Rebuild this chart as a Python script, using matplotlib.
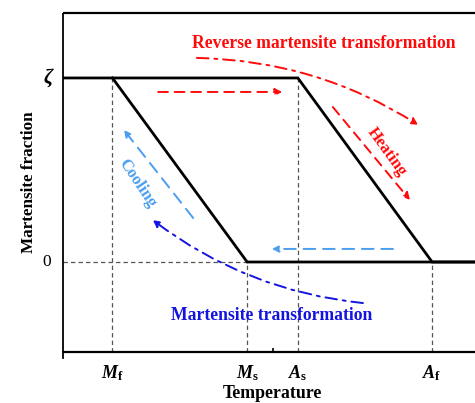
import matplotlib
matplotlib.use("Agg")
import matplotlib.pyplot as plt
from matplotlib.patches import FancyArrowPatch

# Characteristic transformation temperatures (arbitrary units)
temp_labels = ["M_f", "M_s", "A_s", "A_f"]
temp_values = [1.2, 4.47, 5.70, 8.96]
# Martensite fraction levels
frac_labels = ["ζ", "0"]
frac_values = [1.0, 0.0]

T_MIN, T_MAX = 0.0, 10.0
Y_MIN, Y_MAX = -0.489, 1.353

Mf, Ms, As, Af = temp_values
zeta, zero = frac_values

# Heating branch (reverse transformation) and cooling branch (forward transformation)
heat_T = [T_MIN, As, Af, T_MAX]
heat_f = [zeta, zeta, zero, zero]
cool_T = [Mf, Ms, T_MAX]
cool_f = [zeta, zero, zero]

RED = "#FF0A0A"
LIGHT_BLUE = "#4A9EEE"
BLUE = "#1414E0"
GRAY = "#555555"
SERIF = "Liberation Serif"

plt.rcParams["mathtext.fontset"] = "custom"
plt.rcParams["mathtext.it"] = "Liberation Serif:italic:bold"
plt.rcParams["mathtext.rm"] = "Liberation Serif:bold"
plt.rcParams["mathtext.bf"] = "Liberation Serif:bold"

fig = plt.figure(figsize=(4.75, 4.03), dpi=100)
ax = fig.add_axes([63 / 475, 51 / 403, 1 - 63 / 475, (352 - 13) / 403])
ax.set_xlim(T_MIN, T_MAX)
ax.set_ylim(Y_MIN, Y_MAX)

# Guide lines
gkw = dict(color=GRAY, lw=0.9, ls=(0, (3.5, 2.5)), zorder=1)
ax.plot([T_MIN, Ms], [zero, zero], **gkw)
ax.plot([Mf, Mf], [Y_MIN, zeta], **gkw)
ax.plot([Ms, Ms], [Y_MIN, zero], **gkw)
ax.plot([As, As], [Y_MIN, zeta], **gkw)
ax.plot([Af, Af], [Y_MIN, zero], **gkw)

# Hysteresis branches
ax.plot(heat_T, heat_f, color="black", lw=2.0, solid_joinstyle="miter", zorder=3)
ax.plot(cool_T, cool_f, color="black", lw=2.0, solid_joinstyle="miter", zorder=3)


def arrow(p0, p1, color, ls, rad=0.0, lw=1.4):
    a = FancyArrowPatch(p0, p1, arrowstyle="-|>", mutation_scale=10,
                        connectionstyle=f"arc3,rad={rad}", color=color,
                        lw=lw, linestyle=ls, zorder=4, shrinkA=0, shrinkB=0)
    ax.add_patch(a)


dash = (0, (5, 3.5))
dashdot = (0, (6, 3, 1.5, 3))

# Heating direction arrows
arrow((2.31, 0.924), (5.32, 0.924), RED, dash)
arrow((6.55, 0.842), (8.42, 0.337), RED, dash)
arrow((3.25, 1.109), (8.62, 0.745), RED, dashdot, rad=-0.14)

# Cooling direction arrows
arrow((8.01, 0.071), (5.07, 0.071), LIGHT_BLUE, (0, (6, 4)))
arrow((3.16, 0.239), (1.48, 0.717), LIGHT_BLUE, (0, (6, 4)))
arrow((7.28, -0.223), (2.18, 0.228), BLUE, dashdot, rad=-0.14)

# Annotations
ax.text(6.33, 1.185, "Reverse martensite transformation", color=RED,
        fontfamily=SERIF, fontweight="bold", fontsize=12.7, ha="center", va="center")
ax.text(5.07, -0.293, "Martensite transformation", color=BLUE,
        fontfamily=SERIF, fontweight="bold", fontsize=12.7, ha="center", va="center")
ax.text(7.86, 0.598, "Heating", color=RED, rotation=-54, rotation_mode="anchor",
        fontfamily=SERIF, fontweight="bold", fontsize=12, ha="center", va="center")
ax.text(1.80, 0.429, "Cooling", color=LIGHT_BLUE, rotation=-56, rotation_mode="anchor",
        fontfamily=SERIF, fontweight="bold", fontsize=12, ha="center", va="center")

# Axes styling
ax.spines["right"].set_visible(False)
ax.spines["top"].set_linewidth(1.6)
ax.spines["left"].set_linewidth(1.3)
ax.spines["bottom"].set_linewidth(1.6)
for s in ("top", "left", "bottom"):
    ax.spines[s].set_capstyle("butt")
ax.plot([T_MIN, T_MIN], [Y_MIN, Y_MIN - 0.03], color="black", lw=1.3,
        clip_on=False, zorder=5)

ax.set_xticks(temp_values)
ax.set_xticklabels([f"${lab[0]}_{{\\mathrm{{{lab[2]}}}}}$" for lab in temp_labels],
                   fontsize=13)
ax.set_xticks([5.10], minor=True)
ax.tick_params(axis="x", which="major", length=0, pad=8)
ax.tick_params(axis="x", which="minor", direction="in", length=3, width=1.2)

ax.set_yticks(frac_values)
ax.set_yticklabels([])
ax.tick_params(axis="y", length=0)
ax.text(-0.25, zeta, frac_labels[0], transform=ax.transData, ha="right", va="center",
        fontfamily=SERIF, fontstyle="italic", fontweight="bold", fontsize=15)
ax.text(-0.28, zero, frac_labels[1], transform=ax.transData, ha="right", va="center",
        fontfamily=SERIF, fontsize=12.5)

ax.set_xlabel("Temperature", fontfamily=SERIF, fontweight="bold", fontsize=12.8,
              va="center")
ax.xaxis.set_label_coords((272 - 63) / (475 - 63), -(394 - 352) / (352 - 13))
ax.set_ylabel("Martensite fraction", fontfamily=SERIF, fontweight="bold",
              fontsize=12.3, labelpad=15)

fig.savefig("out.png", dpi=100)
